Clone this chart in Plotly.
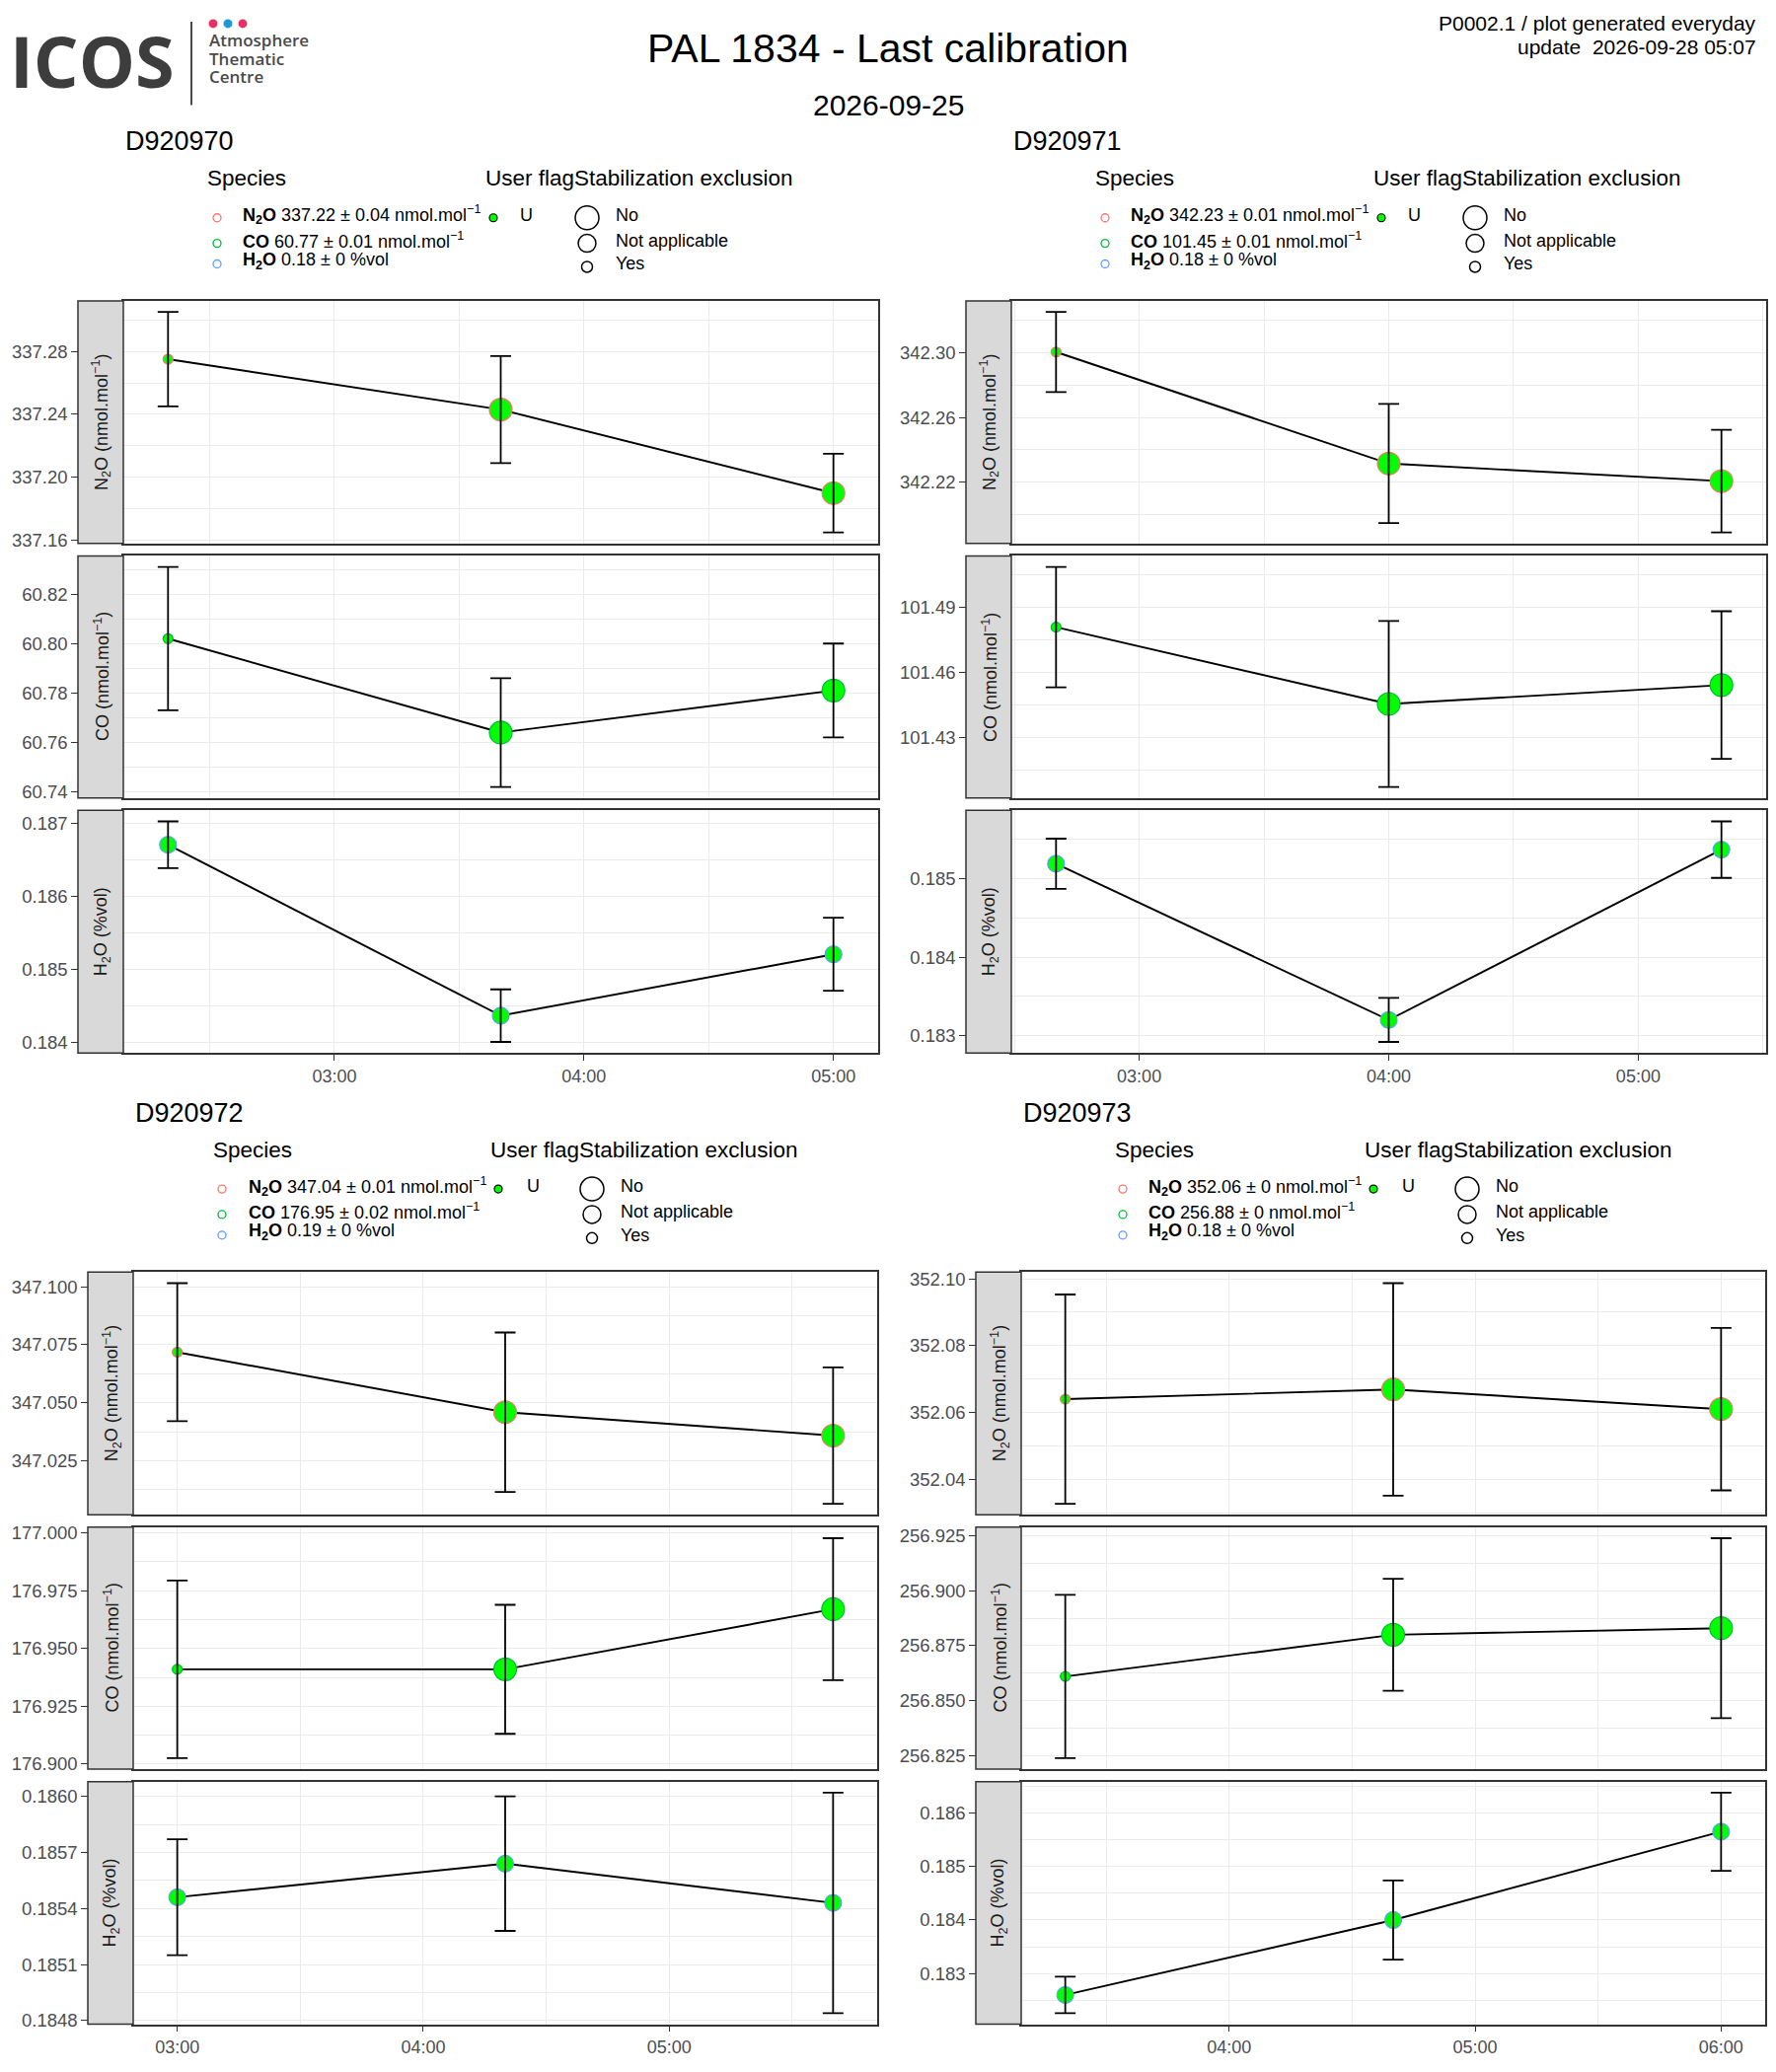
import plotly.graph_objects as go
from datetime import datetime, timedelta

W, H = 1800, 2100
FONT = "Liberation Sans, Arial, Helvetica, sans-serif"

# ---------------- data ----------------
instruments = ["D920970", "D920971", "D920972", "D920973"]
species = ["N2O", "CO", "H2O"]

times_970 = ["2026-09-25 02:20", "2026-09-25 03:40", "2026-09-25 05:00"]
times_971 = ["2026-09-25 02:40", "2026-09-25 04:00", "2026-09-25 05:20"]
times_972 = ["2026-09-25 03:00", "2026-09-25 04:20", "2026-09-25 05:40"]
times_973 = ["2026-09-25 03:20", "2026-09-25 04:40", "2026-09-25 06:00"]

n2o_970 = [337.275, 337.243, 337.190]
n2o_sd_970 = [0.030, 0.034, 0.025]
co_970 = [60.802, 60.764, 60.781]
co_sd_970 = [0.029, 0.022, 0.019]
h2o_970 = [0.18671, 0.18437, 0.18521]
h2o_sd_970 = [0.00032, 0.00036, 0.00050]

n2o_971 = [342.3006, 342.2315, 342.2206]
n2o_sd_971 = [0.0248, 0.0369, 0.0318]
co_971 = [101.4807, 101.4453, 101.4540]
co_sd_971 = [0.0277, 0.0382, 0.0340]
h2o_971 = [0.18519, 0.18320, 0.18537]
h2o_sd_971 = [0.00032, 0.00028, 0.00036]

n2o_972 = [347.0718, 347.0459, 347.0358]
n2o_sd_972 = [0.0298, 0.0344, 0.0294]
co_972 = [176.941, 176.941, 176.967]
co_sd_972 = [0.0384, 0.0279, 0.0307]
h2o_972 = [0.18546, 0.18564, 0.18543]
h2o_sd_972 = [0.00031, 0.00036, 0.00059]

n2o_973 = [352.0640, 352.0669, 352.0610]
n2o_sd_973 = [0.0313, 0.0318, 0.0243]
co_973 = [256.861, 256.880, 256.883]
co_sd_973 = [0.0372, 0.0255, 0.0410]
h2o_973 = [0.18260, 0.18400, 0.18565]
h2o_sd_973 = [0.00034, 0.00074, 0.00073]

# stabilization exclusion flag of each point
stab_gas = ["Yes", "No", "No"]
stab_h2o = ["Not applicable", "Not applicable", "Not applicable"]

# y tick labels of each panel (N2O, CO, H2O)
ticks_970 = [["337.16", "337.20", "337.24", "337.28"],
             ["60.74", "60.76", "60.78", "60.80", "60.82"],
             ["0.184", "0.185", "0.186", "0.187"]]
ticks_971 = [["342.22", "342.26", "342.30"],
             ["101.43", "101.46", "101.49"],
             ["0.183", "0.184", "0.185"]]
ticks_972 = [["347.025", "347.050", "347.075", "347.100"],
             ["176.900", "176.925", "176.950", "176.975", "177.000"],
             ["0.1848", "0.1851", "0.1854", "0.1857", "0.1860"]]
ticks_973 = [["352.04", "352.06", "352.08", "352.10"],
             ["256.825", "256.850", "256.875", "256.900", "256.925"],
             ["0.183", "0.184", "0.185", "0.186"]]

# legend summaries (mean +- sd of the kept injections)
summary_970 = ["337.22 ± 0.04 nmol.mol<sup>−1</sup>", "60.77 ± 0.01 nmol.mol<sup>−1</sup>", "0.18 ± 0 %vol"]
summary_971 = ["342.23 ± 0.01 nmol.mol<sup>−1</sup>", "101.45 ± 0.01 nmol.mol<sup>−1</sup>", "0.18 ± 0 %vol"]
summary_972 = ["347.04 ± 0.01 nmol.mol<sup>−1</sup>", "176.95 ± 0.02 nmol.mol<sup>−1</sup>", "0.19 ± 0 %vol"]
summary_973 = ["352.06 ± 0 nmol.mol<sup>−1</sup>", "256.88 ± 0 nmol.mol<sup>−1</sup>", "0.18 ± 0 %vol"]

species_label = ["N<sub>2</sub>O", "CO", "H<sub>2</sub>O"]
strip_label = ["N<sub>2</sub>O (nmol.mol<sup>−1</sup>)", "CO (nmol.mol<sup>−1</sup>)", "H<sub>2</sub>O (%vol)"]
stab_levels = ["No", "Not applicable", "Yes"]

times = [times_970, times_971, times_972, times_973]
values = [[n2o_970, co_970, h2o_970], [n2o_971, co_971, h2o_971],
          [n2o_972, co_972, h2o_972], [n2o_973, co_973, h2o_973]]
sds = [[n2o_sd_970, co_sd_970, h2o_sd_970], [n2o_sd_971, co_sd_971, h2o_sd_971],
       [n2o_sd_972, co_sd_972, h2o_sd_972], [n2o_sd_973, co_sd_973, h2o_sd_973]]
stabs = [stab_gas, stab_gas, stab_h2o]
ticks = [ticks_970, ticks_971, ticks_972, ticks_973]
summaries = [summary_970, summary_971, summary_972, summary_973]

# ---------------- styling ----------------
SPECIES_COLOR = ["#F8766D", "#00BA38", "#619CFF"]
FLAG_FILL = "#00FF00"
STAB_SIZE = {"No": 23, "Not applicable": 17, "Yes": 10}
GRID = "#EBEBEB"
FRAME = "#333333"
STRIP_W = 46
ERRBAR_MIN = 5.0  # error bar cap width, minutes
TXT_DY = -3      # text boxes sit a bit low when centred

# panel placement in pixels
panel_left = [125, 1025, 135, 1035]
panel_right = [890, 1790, 889, 1789]
group_dy = [0, 0, 990, 990]
rows_px = [(301.7, 549.0), (561.7, 808.3), (821.0, 1068.3)]

# legend x offsets from the panel left edge
leg_dx = [
    dict(title=83, sp_key=95, sp_txt=119, uf=365, u_key=375, u_txt=400, st_key=470, st_txt=497),
    dict(title=83, sp_key=95, sp_txt=119, uf=365, u_key=375, u_txt=400, st_key=470, st_txt=497),
    dict(title=79, sp_key=90, sp_txt=115, uf=360, u_key=370, u_txt=397, st_key=465, st_txt=492),
    dict(title=93, sp_key=103, sp_txt=127, uf=346, u_key=357, u_txt=384, st_key=452, st_txt=479),
]


def px(x):
    return x / W


def py(y):
    return 1 - y / H


def txt(x, y, text, size, color="#000000", xanchor="left", family=FONT, weight="normal"):
    return dict(x=px(x), y=py(y + TXT_DY), xref="paper", yref="paper", text=text, showarrow=False,
                xanchor=xanchor, yanchor="middle",
                font=dict(size=size, color=color, family=family, weight=weight))


def circle(x, y, d, line_color, fill="rgba(0,0,0,0)", lw=1.2):
    return dict(type="circle", xref="paper", yref="paper", xsizemode="pixel", ysizemode="pixel",
                xanchor=px(x), yanchor=py(y), x0=-d / 2, x1=d / 2, y0=-d / 2, y1=d / 2,
                line=dict(color=line_color, width=lw), fillcolor=fill, layer="above")


fig = go.Figure()
layout = dict(width=W, height=H, autosize=False, margin=dict(l=0, r=0, t=0, b=0),
              paper_bgcolor="white", plot_bgcolor="white", showlegend=False,
              font=dict(family=FONT, color="#000000"))
shapes = []
annotations = []

for g, inst in enumerate(instruments):
    pl, pr, dy = panel_left[g], panel_right[g], group_dy[g]
    t = [datetime.strptime(s, "%Y-%m-%d %H:%M") for s in times[g]]
    span = (max(t) - min(t)).total_seconds() / 60
    pad = timedelta(minutes=ERRBAR_MIN / 2 + 0.05 * (span + ERRBAR_MIN))
    xrange = [(min(t) - pad).strftime("%Y-%m-%d %H:%M:%S"), (max(t) + pad).strftime("%Y-%m-%d %H:%M:%S")]

    for r, sp in enumerate(species):
        k = g * 3 + r + 1
        sfx = "" if k == 1 else str(k)
        v, e = values[g][r], sds[g][r]
        lo = min(a - b for a, b in zip(v, e))
        hi = max(a + b for a, b in zip(v, e))
        ypad = 0.05 * (hi - lo)
        top, bot = rows_px[r][0] + dy, rows_px[r][1] + dy

        tt = ticks[g][r]
        tv = [float(s) for s in tt]
        step = tv[1] - tv[0]
        minor_vals = [a - step / 2 for a in tv] + [tv[-1] + step / 2]

        layout["xaxis" + sfx] = dict(
            domain=[px(pl), px(pr)], anchor="y" + sfx, type="date", range=xrange,
            tickmode="linear", tick0="2026-09-25 00:00:00", dtick=3600000, tickformat="%H:%M",
            showgrid=True, gridcolor=GRID, gridwidth=1.4,
            minor=dict(dtick=1800000, tick0="2026-09-25 00:00:00", showgrid=True, gridcolor=GRID, gridwidth=0.7),
            showline=True, mirror=True, linecolor=FRAME, linewidth=1.5, zeroline=False,
            showticklabels=(r == 2), ticks="outside" if r == 2 else "", ticklen=6,
            tickcolor=FRAME, tickwidth=1, tickfont=dict(size=18, color="#4D4D4D"),
        )
        layout["yaxis" + sfx] = dict(
            domain=[py(bot), py(top)], anchor="x" + sfx, range=[lo - ypad, hi + ypad],
            tickmode="array", tickvals=tv, ticktext=tt,
            showgrid=True, gridcolor=GRID, gridwidth=1.4,
            minor=dict(tickmode="array", tickvals=minor_vals, showgrid=True, gridcolor=GRID, gridwidth=0.7),
            showline=True, mirror=True, linecolor=FRAME, linewidth=1.5, zeroline=False,
            ticks="outside", ticklen=STRIP_W + 5, tickcolor=FRAME, tickwidth=1,
            tickfont=dict(size=18.5, color="#4D4D4D"),
        )

        fig.add_trace(go.Scatter(x=times[g], y=v, mode="lines", line=dict(color="black", width=1.9),
                                 xaxis="x" + sfx, yaxis="y" + sfx, hoverinfo="skip"))
        fig.add_trace(go.Scatter(x=times[g], y=v, mode="markers",
                                 marker=dict(size=[STAB_SIZE[s] for s in stabs[r]], color=FLAG_FILL, opacity=1,
                                             line=dict(color=SPECIES_COLOR[r], width=1.2)),
                                 xaxis="x" + sfx, yaxis="y" + sfx))
        fig.add_trace(go.Scatter(x=times[g], y=v, mode="markers",
                                 marker=dict(size=1, color="rgba(0,0,0,0)"),
                                 error_y=dict(type="data", array=e, color="black", thickness=1.8, width=10.5),
                                 xaxis="x" + sfx, yaxis="y" + sfx, hoverinfo="skip"))

        # facet strip on the left
        shapes.append(dict(type="rect", xref="paper", yref="paper", x0=px(pl - STRIP_W), x1=px(pl),
                           y0=py(bot), y1=py(top), fillcolor="#D9D9D9", line=dict(color=FRAME, width=1.5),
                           layer="above"))
        annotations.append(dict(x=px(pl - STRIP_W / 2 + 1), y=py((top + bot) / 2), xref="paper", yref="paper",
                                xanchor="center", yanchor="middle",
                                text=strip_label[r], textangle=-90, showarrow=False,
                                font=dict(size=18, color="#1A1A1A", family=FONT)))

    # group title and legend
    d = leg_dx[g]
    annotations.append(txt(pl, 142 + dy, inst, 27))
    annotations.append(txt(pl + d["title"], 180 + dy, "Species", 22.5))
    annotations.append(txt(pl + d["uf"], 180 + dy, "User flagStabilization exclusion", 22.5))
    for r in range(3):
        yy = [217, 243, 264][r] + dy
        shapes.append(circle(pl + d["sp_key"], yy, 8, SPECIES_COLOR[r], lw=1.3))
        annotations.append(txt(pl + d["sp_txt"], yy, "<b>" + species_label[r] + "</b> " + summaries[g][r], 18))
    shapes.append(circle(pl + d["u_key"], 217 + dy, 8, "black", fill=FLAG_FILL, lw=1.2))
    annotations.append(txt(pl + d["u_txt"], 217 + dy, "U", 18))
    for i, lvl in enumerate(stab_levels):
        yy = [217, 243, 267][i] + dy
        shapes.append(circle(pl + d["st_key"], yy, STAB_SIZE[lvl] + 1, "black", lw=1.5))
        annotations.append(txt(pl + d["st_txt"], yy, lvl, 18))

# ---------------- header ----------------
annotations.append(txt(900, 47, "PAL 1834 - Last calibration", 41, xanchor="center"))
annotations.append(txt(900, 105, "2026-09-25", 30, xanchor="center"))
annotations.append(txt(1782, 22, "P0002.1 / plot generated everyday", 21, xanchor="right"))
annotations.append(txt(1782, 46, "update  2026-09-28 05:07", 21, xanchor="right"))

# ICOS logo
annotations.append(txt(8, 59, "ICOS", 72, color="#3D3D3D", family="Open Sans", weight="bold"))
for i, word in enumerate(["Atmosphere", "Thematic", "Centre"]):
    annotations.append(txt(210, [39, 58, 76][i], word, 17, color="#4A4A4A", family="Open Sans", weight=600))
shapes.append(dict(type="line", xref="paper", yref="paper", x0=px(194), x1=px(194), y0=py(17), y1=py(102),
                   line=dict(color="#4A4A4A", width=2)))
for x, c in zip([216, 231, 246], ["#E6306A", "#1B9AD6", "#E6306A"]):
    shapes.append(circle(x, 19, 9, c, fill=c, lw=0))

layout["shapes"] = shapes
layout["annotations"] = annotations
fig.update_layout(**layout)

fig.write_html("out.html", config={"displayModeBar": False},
               post_script="document.body.style.margin='0px';")
